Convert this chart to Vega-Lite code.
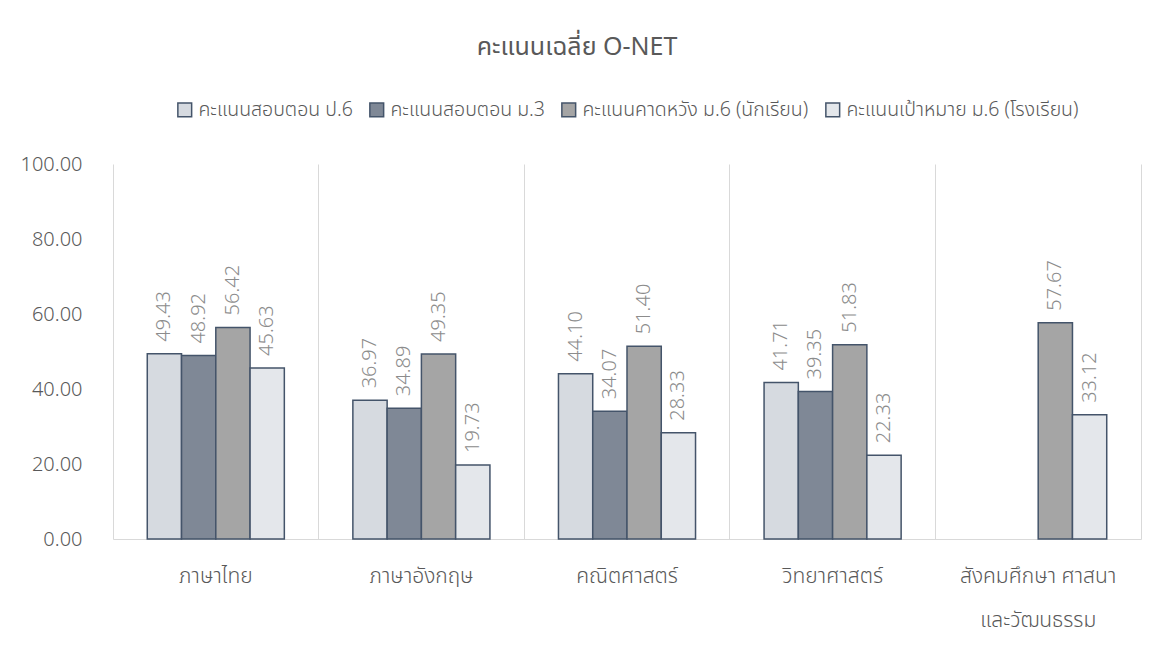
{
  "$schema": "https://vega.github.io/schema/vega-lite/v6.json",
  "width": 1028,
  "height": 375,
  "autosize": {"type": "none"},
  "padding": {"left": 113, "top": 164, "right": 8, "bottom": 106},
  "background": "white",
  "title": {
    "text": "คะแนนเฉลี่ย O-NET",
    "fontSize": 25,
    "fontWeight": 400,
    "color": "#595959",
    "anchor": "middle",
    "dx": -50,
    "offset": 40
  },
  "data": {
    "values": [
      {"subject": "ภาษาไทย", "series": "คะแนนสอบตอน ป.6", "score": 49.43},
      {"subject": "ภาษาไทย", "series": "คะแนนสอบตอน ม.3", "score": 48.92},
      {"subject": "ภาษาไทย", "series": "คะแนนคาดหวัง ม.6 (นักเรียน)", "score": 56.42},
      {"subject": "ภาษาไทย", "series": "คะแนนเป้าหมาย ม.6 (โรงเรียน)", "score": 45.63},
      {"subject": "ภาษาอังกฤษ", "series": "คะแนนสอบตอน ป.6", "score": 36.97},
      {"subject": "ภาษาอังกฤษ", "series": "คะแนนสอบตอน ม.3", "score": 34.89},
      {"subject": "ภาษาอังกฤษ", "series": "คะแนนคาดหวัง ม.6 (นักเรียน)", "score": 49.35},
      {"subject": "ภาษาอังกฤษ", "series": "คะแนนเป้าหมาย ม.6 (โรงเรียน)", "score": 19.73},
      {"subject": "คณิตศาสตร์", "series": "คะแนนสอบตอน ป.6", "score": 44.10},
      {"subject": "คณิตศาสตร์", "series": "คะแนนสอบตอน ม.3", "score": 34.07},
      {"subject": "คณิตศาสตร์", "series": "คะแนนคาดหวัง ม.6 (นักเรียน)", "score": 51.40},
      {"subject": "คณิตศาสตร์", "series": "คะแนนเป้าหมาย ม.6 (โรงเรียน)", "score": 28.33},
      {"subject": "วิทยาศาสตร์", "series": "คะแนนสอบตอน ป.6", "score": 41.71},
      {"subject": "วิทยาศาสตร์", "series": "คะแนนสอบตอน ม.3", "score": 39.35},
      {"subject": "วิทยาศาสตร์", "series": "คะแนนคาดหวัง ม.6 (นักเรียน)", "score": 51.83},
      {"subject": "วิทยาศาสตร์", "series": "คะแนนเป้าหมาย ม.6 (โรงเรียน)", "score": 22.33},
      {"subject": "สังคมศึกษา ศาสนา และวัฒนธรรม", "series": "คะแนนคาดหวัง ม.6 (นักเรียน)", "score": 57.67},
      {"subject": "สังคมศึกษา ศาสนา และวัฒนธรรม", "series": "คะแนนเป้าหมาย ม.6 (โรงเรียน)", "score": 33.12}
    ]
  },
  "encoding": {
    "x": {
      "field": "subject",
      "type": "nominal",
      "sort": null,
      "scale": {"paddingInner": 0, "paddingOuter": 0},
      "axis": {
        "title": null,
        "labelAngle": 0,
        "labelFontSize": 21,
        "labelFontWeight": 300,
        "labelColor": "#595959",
        "labelPadding": 26,
        "labelLineHeight": 44,
        "labelBaseline": "top",
        "labelLimit": 0,
        "labelExpr": "datum.value == 'สังคมศึกษา ศาสนา และวัฒนธรรม' ? ['สังคมศึกษา ศาสนา', 'และวัฒนธรรม'] : datum.label",
        "ticks": false,
        "domain": true,
        "domainColor": "#D9D9D9",
        "grid": true,
        "gridColor": "#D9D9D9",
        "bandPosition": 0
      }
    },
    "xOffset": {
      "field": "series",
      "type": "nominal",
      "sort": ["คะแนนสอบตอน ป.6", "คะแนนสอบตอน ม.3", "คะแนนคาดหวัง ม.6 (นักเรียน)", "คะแนนเป้าหมาย ม.6 (โรงเรียน)"],
      "scale": {"paddingInner": 0, "paddingOuter": 1.05}
    }
  },
  "layer": [
    {
      "mark": {"type": "bar", "stroke": "#44546A", "strokeWidth": 1.5},
      "encoding": {
        "y": {
          "field": "score",
          "type": "quantitative",
          "scale": {"domain": [0, 100]},
          "axis": {
            "title": null,
            "values": [0, 20, 40, 60, 80, 100],
            "format": ".2f",
            "labelFontSize": 20,
            "labelFontWeight": 300,
            "labelColor": "#595959",
            "labelPadding": 31,
            "ticks": false,
            "domain": false,
            "grid": false
          }
        },
        "color": {
          "field": "series",
          "type": "nominal",
          "sort": ["คะแนนสอบตอน ป.6", "คะแนนสอบตอน ม.3", "คะแนนคาดหวัง ม.6 (นักเรียน)", "คะแนนเป้าหมาย ม.6 (โรงเรียน)"],
          "scale": {"range": ["#D6DAE0", "#7F8896", "#A5A5A5", "#E4E7EB"]},
          "legend": {
            "title": null,
            "orient": "top",
            "direction": "horizontal",
            "symbolType": "square",
            "symbolSize": 190,
            "symbolStrokeColor": "#44546A",
            "symbolStrokeWidth": 1.5,
            "labelFontSize": 19.5,
            "labelFontWeight": 300,
            "labelColor": "#595959",
            "labelLimit": 0,
            "columnPadding": 13,
            "offset": 44
          }
        }
      }
    },
    {
      "mark": {"type": "text", "angle": 270, "align": "left", "baseline": "middle", "dx": 12, "fontSize": 20, "fontWeight": 300, "color": "#8C8C8C"},
      "encoding": {
        "y": {
          "field": "score",
          "type": "quantitative",
          "scale": {"domain": [0, 100]},
          "axis": {
            "orient": "right",
            "title": null,
            "labels": false,
            "ticks": false,
            "grid": false,
            "domain": true,
            "domainColor": "#D9D9D9"
          }
        },
        "text": {"field": "score", "type": "quantitative", "format": ".2f"}
      }
    }
  ],
  "resolve": {"axis": {"y": "independent"}},
  "config": {
    "view": {"stroke": null},
    "font": "Noto Sans Thai, Noto Sans, sans-serif",
    "legend": {"layout": {"top": {"anchor": "middle"}}}
  }
}
